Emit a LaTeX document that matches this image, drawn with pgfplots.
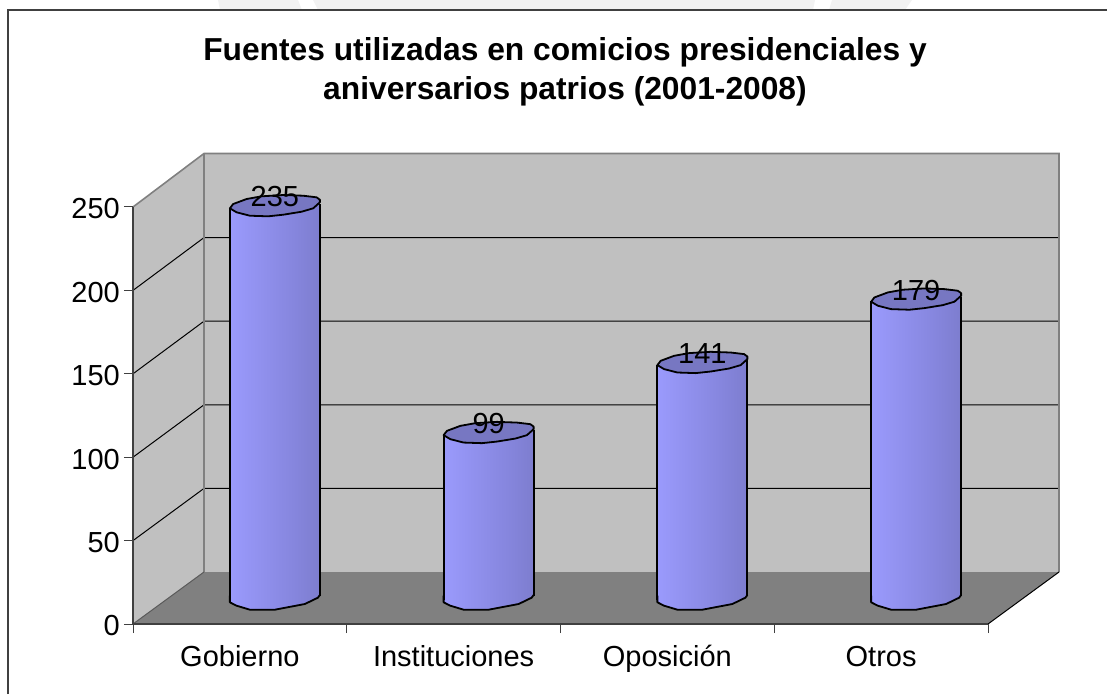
\documentclass[border=0pt]{standalone}
\usepackage{fontspec}
\setmainfont{Liberation Sans}
\usepackage{pgfplots}
\pgfplotsset{compat=1.18}
\definecolor{wall}{HTML}{C0C0C0}
\definecolor{floorc}{HTML}{808080}
\definecolor{edge}{HTML}{808080}
\definecolor{axc}{HTML}{404040}
\definecolor{topc}{HTML}{7777C2}
\definecolor{cA}{HTML}{9292F2}
\definecolor{cB}{HTML}{9C9CFF}
\definecolor{cC}{HTML}{8686DE}
\definecolor{cD}{HTML}{6E6EB4}
\pgfdeclarehorizontalshading{cyl}{100bp}{color(0bp)=(cA); color(22bp)=(cB); color(60bp)=(cC); color(100bp)=(cD)}
\pgfdeclareplotmark{cylbotline}{%
  \draw[black,line width=1.8pt,line join=round] (-45pt,0pt) -- (-45pt,-6.8pt) -- (-38.3pt,-10.2pt) -- (-25pt,-14.2pt) -- (0pt,-14.2pt) -- (30pt,-8.5pt) -- (43pt,-2.2pt) -- (45pt,0.5pt);
}
\pgfdeclareplotmark{cyltop}{%
  \draw[black,fill=topc,line width=1.8pt,line join=round] (-45pt,-4.3pt) -- (-38.3pt,-8.3pt) -- (-25pt,-11.7pt) -- (-6.7pt,-12.3pt) -- (8.3pt,-10.7pt) -- (26.7pt,-7.7pt) -- (38.3pt,-4.3pt) -- (45pt,1.7pt) -- (45pt,4.3pt) -- (41.7pt,6.7pt) -- (28.3pt,8.3pt) -- (8.3pt,9pt) -- (-13.3pt,7.7pt) -- (-28.3pt,5pt) -- (-41.7pt,0pt) -- cycle;
}
\newcommand{\tickfont}{\fontsize{29}{33}\selectfont}
\begin{document}
\begin{tikzpicture}
\path[use as bounding box] (0,0) rectangle (1107pt,694pt);
\begin{scope}[x=1pt,y=-1pt,shift={(0pt,694pt)}]
  % faint backdrop above the chart frame
  \fill[black!5] (218,0) -- (298,0) -- (302,10) -- (220,10) -- cycle;
  \fill[black!5] (313,0) -- (815,0) -- (813,10) -- (318,10) -- cycle;
  \fill[black!5] (832,0) -- (912,0) -- (905,10) -- (829,10) -- cycle;
  % frame
  \draw[axc,line width=2pt] (8,694) -- (8,10) -- (1107,10);
  % walls
  \fill[wall] (204,153.5) -- (1059,153.5) -- (1059,572) -- (204,572) -- cycle;
  \fill[wall] (133,207) -- (204,153.5) -- (204,572) -- (133,624) -- cycle;
  \fill[floorc] (133,624) -- (204,572) -- (1059,572) -- (988,624) -- cycle;
  % grid
  \foreach \v in {50,100,150,200}{
    \pgfmathsetmacro{\yb}{572-1.672*\v}
    \pgfmathsetmacro{\yf}{624-1.668*\v}
    \draw[black,line width=1pt] (133,\yf) -- (204,\yb) -- (1059,\yb);
  }
  \draw[edge,line width=1.6pt] (133,207) -- (204,153.5) -- (1059,153.5) -- (1059,572);
  \draw[edge,line width=1.6pt] (204,153.5) -- (204,572);
  \draw[black,line width=1pt] (988,624) -- (1059,572);
  \draw[floorc!70!black,line width=1pt] (133,624) -- (204,572);
  % title
  \node[anchor=base,font=\bfseries\fontsize{31.75}{36}\selectfont,inner sep=0pt] at (565,61) {Fuentes utilizadas en comicios presidenciales y};
  \node[anchor=base,font=\bfseries\fontsize{31.75}{36}\selectfont,inner sep=0pt] at (565,100) {aniversarios patrios (2001-2008)};
\end{scope}
\begin{axis}[
  at={(133pt,70pt)}, anchor=south west,
  scale only axis, width=855pt, height=417pt,
  xmin=0, xmax=4, ymin=0, ymax=250,
  clip=false,
  axis x line=bottom, axis y line=left,
  axis line style={-,axc,line width=1.5pt},
  tick style={axc,line width=1pt},
  tick align=outside, major tick length=9pt,
  xtick={0,1,2,3,4}, xticklabels={},
  ytick={0,50,100,150,200,250},
  extra x ticks={0.5,1.5,2.5,3.5},
  extra x tick labels={Gobierno,Instituciones,Oposición,Otros},
  extra x tick style={major tick length=0pt,
    xticklabel style={font=\tickfont,inner sep=0pt,yshift=-21pt,text height=21pt,text depth=6pt}},
  yticklabel style={font=\tickfont,inner sep=0pt,xshift=-4pt,yshift=-2pt},
  /pgf/number format/assume math mode=true,
]
\pgfplotsset{
  cylshift/.style={xshift=35pt,yshift=28.5pt},
  cylbody/.style={draw=none,mark=none,shade,shading=cyl,cylshift},
}
% each body: the column from its value down to the curved foot under the base
\addplot[cylbody] coordinates {(0.2895,232.6) (0.2895,-4.08) (0.3208,-6.12) (0.383,-8.51) (0.5,-8.51) (0.6404,-5.1) (0.7012,-1.32) (0.7105,0.3) (0.7105,235) (0.5,235)} -- cycle;
\addplot[cylbody] coordinates {(1.2895,96.6) (1.2895,-4.08) (1.3208,-6.12) (1.383,-8.51) (1.5,-8.51) (1.6404,-5.1) (1.7012,-1.32) (1.7105,0.3) (1.7105,99) (1.5,99)} -- cycle;
\addplot[cylbody] coordinates {(2.2895,138.6) (2.2895,-4.08) (2.3208,-6.12) (2.383,-8.51) (2.5,-8.51) (2.6404,-5.1) (2.7012,-1.32) (2.7105,0.3) (2.7105,141) (2.5,141)} -- cycle;
\addplot[cylbody] coordinates {(3.2895,176.6) (3.2895,-4.08) (3.3208,-6.12) (3.383,-8.51) (3.5,-8.51) (3.6404,-5.1) (3.7012,-1.32) (3.7105,0.3) (3.7105,179) (3.5,179)} -- cycle;
\addplot[only marks,mark=cylbotline,cylshift]
  coordinates {(0.5,0) (1.5,0) (2.5,0) (3.5,0)};
\addplot[ycomb,black,line width=1.8pt,mark=none,xshift=-10pt,yshift=24pt]
  coordinates {(0.5,235) (1.5,99) (2.5,141) (3.5,179)};
\addplot[ycomb,black,line width=1.8pt,mark=none,xshift=80pt,yshift=28.5pt]
  coordinates {(0.5,235) (1.5,99) (2.5,141) (3.5,179)};
\addplot[only marks,mark=cyltop,xshift=35pt,yshift=28pt,
  nodes near coords,
  every node near coord/.style={anchor=base,yshift=-2.7pt,inner sep=0pt,font=\tickfont,text=black,/pgf/number format/assume math mode=true}]
  coordinates {(0.5,235) (1.5,99) (2.5,141) (3.5,179)};
\end{axis}
\end{tikzpicture}
\end{document}
